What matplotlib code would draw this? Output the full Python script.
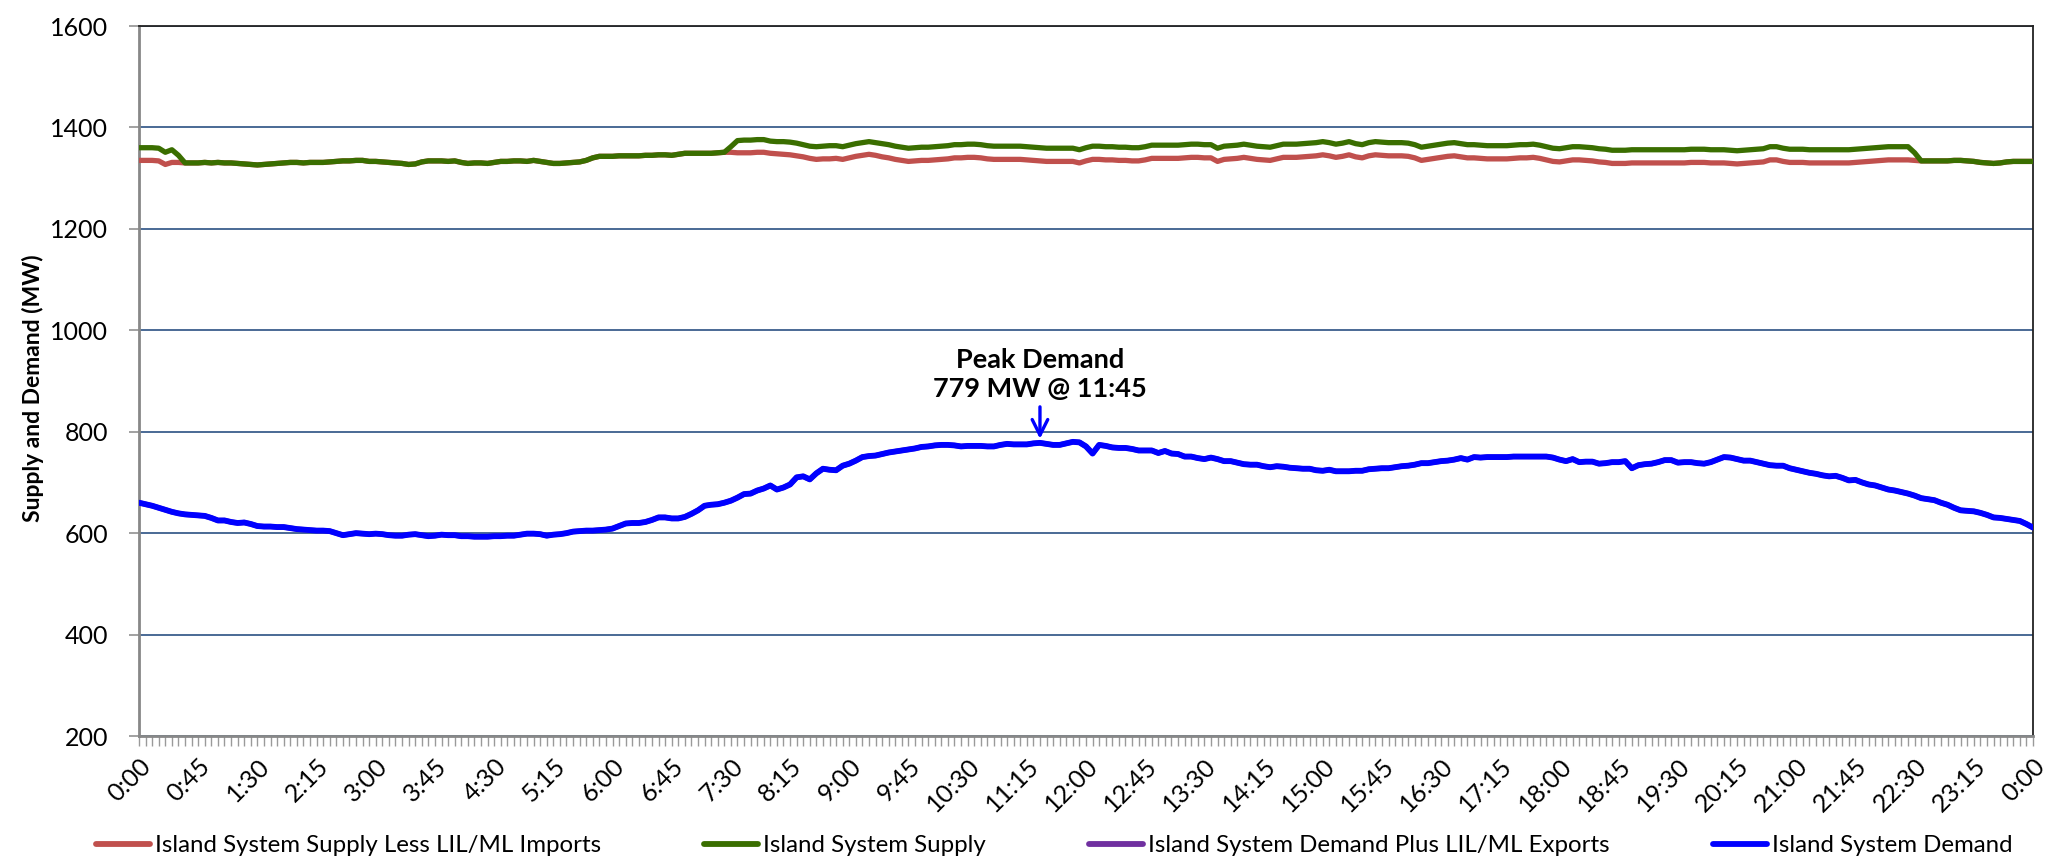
import matplotlib
matplotlib.use("Agg")
import matplotlib.pyplot as plt
from matplotlib.lines import Line2D

# ---------------- data (5-minute intervals, 0:00 .. 24:00) ----------------
island_demand = [
    660, 657, 654, 650, 646, 642, 639, 637, 636, 635, 634, 630,
    625, 625, 622, 620, 621, 618, 614, 613, 613, 612, 612, 610,
    608, 607, 606, 605, 605, 604, 600, 596, 598, 600, 599, 598,
    599, 598, 596, 595, 595, 597, 598, 596, 594, 595, 597, 596,
    596, 594, 594, 593, 593, 593, 594, 594, 595, 595, 597, 599,
    599, 598, 595, 597, 598, 600, 603, 604, 605, 605, 606, 607,
    609, 614, 619, 620, 620, 622, 626, 631, 631, 629, 629, 632,
    638, 645, 654, 656, 657, 660, 664, 670, 677, 678, 684, 688,
    694, 686, 690, 696, 710, 712, 706, 718, 727, 725, 724, 733,
    737, 743, 750, 752, 753, 756, 759, 761, 763, 765, 767, 770,
    771, 773, 774, 774, 773, 771, 772, 772, 772, 771, 771, 774,
    776, 775, 775, 775, 777, 778, 776, 774, 774, 777, 780, 779,
    771, 757, 774, 772, 769, 768, 768, 766, 763, 763, 763, 758,
    762, 757, 756, 751, 751, 748, 746, 749, 746, 742, 742, 739,
    736, 735, 735, 732, 730, 732, 731, 729, 728, 727, 727, 724,
    723, 725, 722, 722, 722, 723, 723, 726, 727, 728, 728, 730,
    732, 733, 735, 738, 738, 740, 742, 743, 745, 748, 745, 750,
    749, 750, 750, 750, 750, 751, 751, 751, 751, 751, 751, 749,
    745, 742, 746, 740, 741, 741, 737, 738, 740, 740, 742, 728,
    734, 736, 737, 740, 744, 744, 739, 740, 740, 738, 737, 740,
    745, 750, 749, 746, 743, 743, 740, 737, 734, 733, 733, 728,
    725, 722, 719, 717, 714, 712, 713, 709, 704, 705, 700, 696,
    694, 690, 686, 684, 681, 678, 674, 669, 667, 665, 660, 656,
    650, 645, 644, 643, 640, 636, 631, 630, 628, 626, 624, 618,
    611,
]

island_supply = [
    1360, 1360, 1360, 1359, 1351, 1356, 1345, 1330, 1330, 1330, 1331, 1330,
    1331, 1330, 1330, 1329, 1328, 1327, 1326, 1327, 1328, 1329, 1330, 1331,
    1331, 1330, 1331, 1331, 1331, 1332, 1333, 1334, 1334, 1335, 1335, 1333,
    1333, 1332, 1331, 1330, 1329, 1327, 1328, 1332, 1334, 1334, 1334, 1333,
    1334, 1331, 1329, 1330, 1330, 1329, 1331, 1333, 1333, 1334, 1334, 1333,
    1335, 1333, 1331, 1329, 1329, 1330, 1331, 1332, 1335, 1340, 1343, 1343,
    1343, 1344, 1344, 1344, 1344, 1345, 1345, 1346, 1346, 1345, 1347, 1349,
    1349, 1349, 1349, 1349, 1350, 1351, 1362, 1374, 1375, 1375, 1376, 1376,
    1373, 1372, 1372, 1371, 1369, 1366, 1363, 1362, 1363, 1364, 1364, 1362,
    1365, 1368, 1370, 1372, 1370, 1368, 1366, 1363, 1361, 1359, 1360, 1361,
    1361, 1362, 1363, 1364, 1366, 1366, 1367, 1367, 1366, 1364, 1363, 1363,
    1363, 1363, 1363, 1362, 1361, 1360, 1359, 1359, 1359, 1359, 1359, 1356,
    1360, 1363, 1363, 1362, 1362, 1361, 1361, 1360, 1360, 1362, 1365, 1365,
    1365, 1365, 1365, 1366, 1367, 1367, 1366, 1366, 1359, 1363, 1364, 1365,
    1367, 1365, 1363, 1362, 1361, 1364, 1367, 1367, 1367, 1368, 1369, 1370,
    1372, 1370, 1367, 1369, 1372, 1368, 1366, 1370, 1372, 1371, 1370, 1370,
    1370, 1369, 1366, 1361, 1363, 1365, 1367, 1369, 1370, 1368, 1366, 1366,
    1365, 1364, 1364, 1364, 1364, 1365, 1366, 1366, 1367, 1365, 1362, 1359,
    1358, 1360, 1362, 1362, 1361, 1360, 1358, 1357, 1355, 1355, 1355, 1356,
    1356, 1356, 1356, 1356, 1356, 1356, 1356, 1356, 1357, 1357, 1357, 1356,
    1356, 1356, 1355, 1354, 1355, 1356, 1357, 1358, 1362, 1362, 1359, 1357,
    1357, 1357, 1356, 1356, 1356, 1356, 1356, 1356, 1356, 1357, 1358, 1359,
    1360, 1361, 1362, 1362, 1362, 1362, 1350, 1334, 1334, 1334, 1334, 1334,
    1335, 1335, 1334, 1333, 1331, 1330, 1329, 1330, 1332, 1333, 1333, 1333,
    1333,
]

supply_less_imports = [
    1335, 1335, 1335, 1334, 1327, 1331, 1331, 1330, 1330, 1330, 1331, 1330,
    1331, 1330, 1330, 1329, 1328, 1327, 1326, 1327, 1328, 1329, 1330, 1331,
    1331, 1330, 1331, 1331, 1331, 1332, 1333, 1334, 1334, 1335, 1335, 1333,
    1333, 1332, 1331, 1330, 1329, 1327, 1328, 1332, 1334, 1334, 1334, 1333,
    1334, 1331, 1329, 1330, 1330, 1329, 1331, 1333, 1333, 1334, 1334, 1333,
    1335, 1333, 1331, 1329, 1329, 1330, 1331, 1332, 1335, 1340, 1343, 1343,
    1343, 1344, 1344, 1344, 1344, 1345, 1345, 1346, 1346, 1345, 1347, 1349,
    1349, 1349, 1349, 1349, 1350, 1351, 1351, 1350, 1350, 1350, 1351, 1351,
    1349, 1348, 1347, 1346, 1344, 1342, 1339, 1337, 1338, 1338, 1339, 1337,
    1340, 1343, 1345, 1347, 1345, 1342, 1340, 1337, 1335, 1333, 1334, 1335,
    1335, 1336, 1337, 1338, 1340, 1340, 1341, 1341, 1340, 1338, 1337, 1337,
    1337, 1337, 1337, 1336, 1335, 1334, 1333, 1333, 1333, 1333, 1333, 1330,
    1334, 1337, 1337, 1336, 1336, 1335, 1335, 1334, 1334, 1336, 1339, 1339,
    1339, 1339, 1339, 1340, 1341, 1341, 1340, 1340, 1333, 1337, 1338, 1339,
    1341, 1339, 1337, 1336, 1335, 1338, 1341, 1341, 1341, 1342, 1343, 1344,
    1346, 1344, 1341, 1343, 1346, 1342, 1340, 1344, 1346, 1345, 1344, 1344,
    1344, 1343, 1340, 1335, 1337, 1339, 1341, 1343, 1344, 1342, 1340, 1340,
    1339, 1338, 1338, 1338, 1338, 1339, 1340, 1340, 1341, 1339, 1336, 1333,
    1332, 1334, 1336, 1336, 1335, 1334, 1332, 1331, 1329, 1329, 1329, 1330,
    1330, 1330, 1330, 1330, 1330, 1330, 1330, 1330, 1331, 1331, 1331, 1330,
    1330, 1330, 1329, 1328, 1329, 1330, 1331, 1332, 1336, 1336, 1333, 1331,
    1331, 1331, 1330, 1330, 1330, 1330, 1330, 1330, 1330, 1331, 1332, 1333,
    1334, 1335, 1336, 1336, 1336, 1336, 1335, 1334, 1334, 1334, 1334, 1334,
    1335, 1335, 1334, 1333, 1331, 1330, 1329, 1330, 1332, 1333, 1333, 1333,
    1333,
]

# no LIL/ML exports during the day: series coincides with island demand
demand_plus_exports = list(island_demand)

series_labels = [
    "Island System Supply Less LIL/ML Imports",
    "Island System Supply",
    "Island System Demand Plus LIL/ML Exports",
    "Island System Demand",
]
y_label = "Supply and Demand (MW)"
peak_text = "Peak Demand\n779 MW @ 11:45"
interval_minutes = 5
label_every = 9  # one tick label every 45 minutes

# category labels (times of day)
n = len(island_demand)
time_labels = []
for i in range(n):
    m = (i * interval_minutes) % (24 * 60)
    time_labels.append(f"{m // 60}:{m % 60:02d}")

# ---------------- styling ----------------
FONT = ["Lato", "DejaVu Sans"]
plt.rcParams["font.family"] = FONT

W, H, DPI = 2046, 865, 100
fig = plt.figure(figsize=(W / DPI, H / DPI), dpi=DPI)
ax = fig.add_axes([139 / W, 1 - 736 / H, (2033 - 139) / W, (736 - 26) / H])

x = list(range(n))
c_red, c_green, c_purple, c_blue = "#C0504D", "#3A6E00", "#7030A0", "#0000FF"

ax.plot(x, supply_less_imports, color=c_red, lw=3.8, solid_capstyle="round", zorder=3)
ax.plot(x, island_supply, color=c_green, lw=3.8, solid_capstyle="round", zorder=4)
ax.plot(x, demand_plus_exports, color=c_purple, lw=3.8, solid_capstyle="round", zorder=5)
ax.plot(x, island_demand, color=c_blue, lw=4.2, solid_capstyle="round", zorder=6)

ax.set_xlim(0, n - 1)
ax.set_ylim(200, 1600)
ax.set_yticks(range(200, 1601, 200))
ax.yaxis.grid(True, color="#3B5E8C", lw=1.3)
ax.set_axisbelow(True)

ax.set_xticks(x, minor=True)
ax.set_xticks(x[::label_every])
ax.set_xticklabels(time_labels[::label_every], rotation=45, ha="right",
                   va="top", rotation_mode="anchor", fontsize=18)
ax.tick_params(axis="x", which="both", length=7, width=1.0, color="#9A9A9A",
               direction="out", pad=6)
ax.tick_params(axis="y", length=7, width=1.3, color="#9A9A9A", labelsize=18, pad=15)

for s in ["left", "bottom"]:
    ax.spines[s].set_color("#888888")
    ax.spines[s].set_linewidth(2)
for s in ["top", "right"]:
    ax.spines[s].set_color("#222222")
    ax.spines[s].set_linewidth(1.3)

ax.set_ylabel(y_label, fontsize=16.5, fontweight="bold")
ax.yaxis.set_label_coords((44 - 139) / 1894, 0.49)

# peak annotation
peak_x = 137
ax.text(peak_x, 913, peak_text, ha="center", va="center", fontsize=19.5,
        fontweight="bold", linespacing=1.25)
ax.annotate("", xy=(peak_x, 786), xytext=(peak_x, 849),
            arrowprops=dict(arrowstyle="->", color=c_blue, lw=2.4,
                            mutation_scale=28, shrinkA=0, shrinkB=0))

handles = [Line2D([], [], color=c, lw=4.2, solid_capstyle="round")
           for c in (c_red, c_green, c_purple, c_blue)]
fs_leg = 17.3
fig.legend(handles, series_labels, loc="center", bbox_to_anchor=(1054 / W, 1 - 846 / H),
           ncol=4, frameon=False, fontsize=fs_leg, handlelength=2.25, handletextpad=0.2,
           columnspacing=4.3)

fig.savefig("out.png", dpi=DPI)
